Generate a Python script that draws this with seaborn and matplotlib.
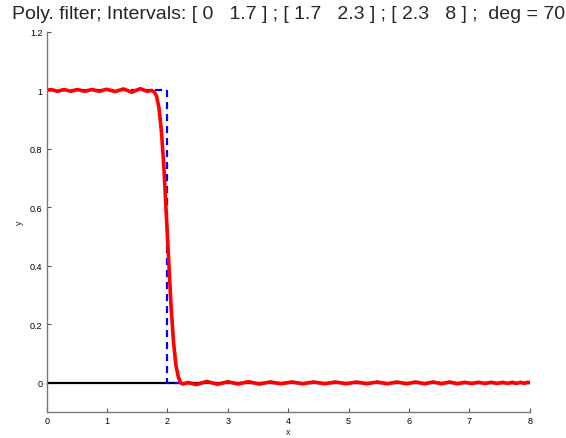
import numpy as np
import pandas as pd
import matplotlib
matplotlib.use("Agg")
import matplotlib.pyplot as plt
import seaborn as sns

# ideal step (dashed blue)
ideal_x = [0, 2, 2, 8]
ideal_y = [1, 1, 0, 0]

# polynomial filter response (red)
filt_x = [0.00, 0.07, 0.18, 0.29, 0.40, 0.51, 0.63, 0.75, 0.87, 0.99,
          1.13, 1.27, 1.41, 1.55, 1.66, 1.74,
          1.78, 1.82, 1.86, 1.90, 1.94, 1.97, 2.00, 2.03, 2.06, 2.10,
          2.14, 2.18, 2.22, 2.26, 2.34,
          2.48, 2.65, 2.83, 3.00, 3.17, 3.34, 3.52, 3.70, 3.88, 4.06,
          4.24, 4.42, 4.60, 4.78, 4.96, 5.13, 5.30, 5.47, 5.64, 5.80,
          5.96, 6.11, 6.26, 6.40, 6.54, 6.67, 6.80, 6.92, 7.04, 7.15,
          7.26, 7.36, 7.46, 7.55, 7.63, 7.71, 7.78, 7.85, 7.91, 7.96, 8.00]
filt_y = [1.000, 1.003, 0.997, 1.003, 0.997, 1.003, 0.997, 1.003, 0.997, 1.004,
          0.996, 1.005, 0.994, 1.006, 0.997, 1.000,
          0.995, 0.980, 0.940, 0.860, 0.740, 0.620, 0.500, 0.380, 0.260, 0.140,
          0.060, 0.020, 0.000, -0.004, 0.001,
          -0.006, 0.005, -0.005, 0.004, -0.004, 0.004, -0.004, 0.003, -0.003, 0.003,
          -0.003, 0.003, -0.003, 0.003, -0.003, 0.003, -0.003, 0.003, -0.003, 0.003,
          -0.003, 0.003, -0.003, 0.003, -0.003, 0.003, -0.003, 0.002, -0.002, 0.002,
          -0.002, 0.002, -0.002, 0.002, -0.002, 0.002, -0.002, 0.002, -0.002, 0.002, 0.001]

zero_x = [0, 8]
zero_y = [0, 0]

x_ticks = [0, 1, 2, 3, 4, 5, 6, 7, 8]
y_ticks = [0, 0.2, 0.4, 0.6, 0.8, 1, 1.2]
y_tick_labels = ["0", "0.2", "0.4", "0.6", "0.8", "1", "1.2"]

title = "Poly. filter; Intervals: [ 0   1.7 ] ; [ 1.7   2.3 ] ; [ 2.3   8 ] ;  deg = 70"

sns.set_style("white")
plt.rcParams["font.family"] = ["Liberation Sans", "DejaVu Sans"]

fig = plt.figure(figsize=(5.66, 4.39), dpi=100)
ax = fig.add_axes([0.0825, 0.059, 0.8535, 0.866])

sns.lineplot(x=zero_x, y=zero_y, ax=ax, color="black", linewidth=1.6,
             sort=False, estimator=None)
sns.lineplot(x=ideal_x, y=ideal_y, ax=ax, color="blue", linewidth=1.6,
             linestyle=(0, (3.2, 2.2)), sort=False, estimator=None)
sns.lineplot(x=filt_x, y=filt_y, ax=ax, color="red", linewidth=2.6,
             sort=False, estimator=None)

ax.set_xlim(0, 8)
ax.set_ylim(-0.1, 1.2)
ax.set_xticks(x_ticks)
ax.set_xticklabels([str(t) for t in x_ticks])
ax.set_yticks(y_ticks)
ax.set_yticklabels(y_tick_labels)
ax.tick_params(direction="in", length=3, width=0.8, labelsize=6.5,
               colors="#555555", labelcolor="black", pad=3)
ax.tick_params(axis="both", which="both", left=True, bottom=True)

sns.despine(ax=ax)
for s in ["left", "bottom"]:
    ax.spines[s].set_color("#777777")
    ax.spines[s].set_linewidth(1.0)

ax.set_xlabel("x", fontsize=6.5, labelpad=1)
ax.set_ylabel("y", fontsize=6.5, labelpad=4)
ax.set_title(title, fontsize=14, pad=10)

fig.savefig("out.png", dpi=100)
